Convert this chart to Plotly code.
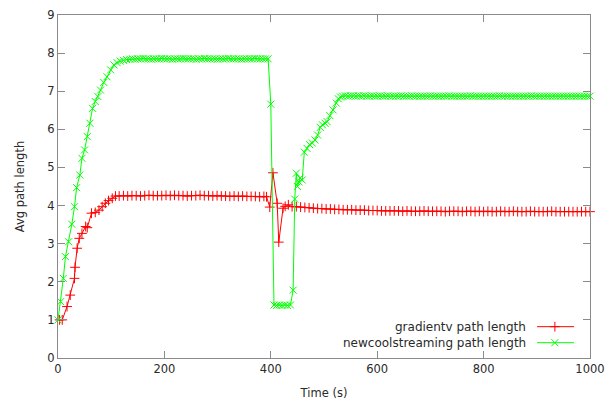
import plotly.graph_objects as go

# ---- gradientv: average path length over time ----
grad_rise_t = [3, 8, 17, 23, 31, 32, 36, 40, 45, 52, 55, 63, 70, 77, 83, 89, 95, 102, 108]
grad_rise_v = [1.0, 1.0, 1.35, 1.65, 2.09, 2.38, 2.88, 3.14, 3.27, 3.45, 3.42, 3.80, 3.82,
               3.88, 3.97, 4.06, 4.13, 4.19, 4.25]
grad_plat_t = list(range(115, 395, 8))
grad_plat_v = [4.25, 4.26, 4.25, 4.26, 4.26, 4.25, 4.26, 4.27, 4.26, 4.26,
               4.26, 4.27, 4.26, 4.27, 4.26, 4.26, 4.25, 4.26, 4.26, 4.27,
               4.26, 4.26, 4.25, 4.26, 4.25, 4.25, 4.24, 4.25, 4.24, 4.25,
               4.24, 4.24, 4.24, 4.23, 4.24]
grad_drop_t = [392, 398, 404, 412, 415, 423, 427, 433, 440]
grad_drop_v = [4.23, 3.96, 4.86, 4.06, 3.04, 3.93, 3.98, 4.02, 3.97]
grad_tail_t = list(range(448, 1001, 8))
grad_tail_v = [3.97, 3.96, 3.95, 3.94, 3.93, 3.92, 3.92, 3.91, 3.91, 3.90,
               3.90, 3.89, 3.89, 3.89, 3.88, 3.88, 3.88, 3.87, 3.87, 3.87,
               3.86, 3.86, 3.86, 3.86, 3.86, 3.85, 3.86, 3.85, 3.85, 3.85,
               3.86, 3.85, 3.85, 3.85, 3.85, 3.84, 3.85, 3.85, 3.85, 3.84,
               3.85, 3.85, 3.84, 3.85, 3.84, 3.85, 3.84, 3.84, 3.85, 3.84,
               3.84, 3.85, 3.84, 3.84, 3.84, 3.85, 3.84, 3.84, 3.84, 3.84,
               3.85, 3.84, 3.84, 3.84, 3.84, 3.84, 3.84, 3.84, 3.84, 3.84]

# ---- newcoolstreaming: average path length over time ----
ncs_rise_t = [0, 5, 10, 14, 20, 26, 31, 35, 41, 45, 50, 55, 60, 65, 70, 75, 80, 86, 92,
              99, 105, 111, 117, 123, 129]
ncs_rise_v = [1.0, 1.48, 2.09, 2.66, 3.05, 3.51, 3.97, 4.47, 4.80, 5.24, 5.46, 5.81, 6.16,
              6.55, 6.73, 6.86, 7.03, 7.23, 7.38, 7.56, 7.69, 7.75, 7.79, 7.81, 7.83]
ncs_plat_t = list(range(135, 400, 5))
ncs_plat_v = [7.84, 7.85, 7.84, 7.85, 7.85, 7.86, 7.85, 7.85, 7.84, 7.85,
              7.85, 7.85, 7.86, 7.85, 7.85, 7.85, 7.84, 7.85, 7.85, 7.85,
              7.86, 7.85, 7.85, 7.85, 7.85, 7.84, 7.85, 7.85, 7.86, 7.85,
              7.85, 7.85, 7.85, 7.84, 7.85, 7.85, 7.85, 7.86, 7.85, 7.85,
              7.85, 7.85, 7.84, 7.85, 7.85, 7.85, 7.85, 7.86, 7.85, 7.85,
              7.85, 7.85, 7.85]
ncs_drop_t = [400, 406, 411, 416, 421, 426, 431, 437, 442, 445, 448, 450, 453, 455, 459,
              463, 468, 473, 478, 483, 488, 493, 497, 502, 506, 511, 517, 523, 527, 531]
ncs_drop_v = [6.66, 1.39, 1.38, 1.39, 1.38, 1.39, 1.38, 1.39, 1.78, 4.17, 4.85, 4.50,
              4.62, 4.72, 4.67, 5.40, 5.50, 5.60, 5.64, 5.72, 5.85, 6.05, 6.12, 6.16,
              6.20, 6.36, 6.51, 6.69, 6.80, 6.85]
ncs_tail_t = list(range(535, 1001, 5))
ncs_tail_v = [6.87, 6.88, 6.87, 6.88, 6.88, 6.87, 6.88, 6.87, 6.88, 6.87,
              6.87, 6.88, 6.87, 6.87, 6.88, 6.87, 6.87, 6.88, 6.87, 6.87,
              6.87, 6.87, 6.88, 6.87, 6.87, 6.87, 6.88, 6.87, 6.87, 6.87,
              6.87, 6.87, 6.87, 6.88, 6.87, 6.87, 6.87, 6.87, 6.87, 6.87,
              6.88, 6.87, 6.87, 6.87, 6.87, 6.87, 6.87, 6.87, 6.88, 6.87,
              6.87, 6.87, 6.87, 6.87, 6.87, 6.87, 6.87, 6.87, 6.87, 6.88,
              6.87, 6.87, 6.87, 6.87, 6.87, 6.87, 6.87, 6.87, 6.87, 6.87,
              6.87, 6.88, 6.87, 6.87, 6.87, 6.87, 6.87, 6.87, 6.87, 6.87,
              6.87, 6.87, 6.87, 6.87, 6.87, 6.87, 6.87, 6.87, 6.87, 6.87,
              6.87, 6.87, 6.87, 6.87]

grad_t = grad_rise_t + grad_plat_t + grad_drop_t + grad_tail_t
grad_v = grad_rise_v + grad_plat_v + grad_drop_v + grad_tail_v
ncs_t = ncs_rise_t + ncs_plat_t + ncs_drop_t + ncs_tail_t
ncs_v = ncs_rise_v + ncs_plat_v + ncs_drop_v + ncs_tail_v

series_names = ["gradientv path length", "newcoolstreaming path length"]
RED = "rgb(255,0,0)"
GREEN = "rgb(0,255,0)"
FONT = "DejaVu Sans"
TEXT = "#2a2a2a"
AXIS_GRAY = "#8a8a8a"

fig = go.Figure()
fig.add_trace(go.Scatter(
    x=grad_t, y=grad_v, mode="lines+markers", name=series_names[0],
    line=dict(color=RED, width=1),
    marker=dict(symbol="cross-thin-open", size=7, color=RED,
                line=dict(color=RED, width=1)),
    cliponaxis=False, showlegend=False))
fig.add_trace(go.Scatter(
    x=ncs_t, y=ncs_v, mode="lines+markers", name=series_names[1],
    line=dict(color=GREEN, width=1),
    marker=dict(symbol="x-thin-open", size=7, color=GREEN,
                line=dict(color=GREEN, width=1)),
    cliponaxis=False, showlegend=False))

# legend keys (gnuplot style: text on the left, sample on the right)
key_y = [0.0913, 0.0446]
key_styles = [(RED, "cross-thin-open", 7), (GREEN, "x-thin-open", 7)]
for name, ky, (col, sym, sz) in zip(series_names, key_y, key_styles):
    fig.add_trace(go.Scatter(
        x=[0.9005, 0.97], y=[ky, ky], mode="lines", xaxis="x2", yaxis="y2",
        line=dict(color=col, width=1), showlegend=False, hoverinfo="skip"))
    fig.add_trace(go.Scatter(
        x=[0.934], y=[ky], mode="markers", xaxis="x2", yaxis="y2",
        marker=dict(symbol=sym, size=sz, color=col, line=dict(color=col, width=1)),
        showlegend=False, hoverinfo="skip"))
    fig.add_annotation(
        x=0.8836, y=ky, xref="paper", yref="paper", text=name, showarrow=False,
        xanchor="right", yanchor="middle",
        font=dict(family=FONT, size=12, color=TEXT))

axis_common = dict(
    showline=True, linecolor=AXIS_GRAY, linewidth=1, mirror="ticks",
    ticks="inside", ticklen=7, tickcolor=AXIS_GRAY, tickwidth=1,
    showgrid=False, zeroline=False, automargin=False,
    tickfont=dict(family=FONT, size=11.5, color=TEXT),
)

fig.update_layout(
    width=609, height=404,
    margin=dict(l=58, r=19, t=15, b=46),
    paper_bgcolor="white", plot_bgcolor="white",
    xaxis=dict(range=[0, 1000], dtick=200, tick0=0,
               title=dict(text="Time (s)", standoff=14,
                          font=dict(family=FONT, size=11.5, color=TEXT)),
               **axis_common),
    yaxis=dict(range=[0, 9], dtick=1, tick0=0,
               title=dict(text="Avg path length", standoff=20,
                          font=dict(family=FONT, size=11.5, color=TEXT)),
               **axis_common),
    xaxis2=dict(overlaying="x", range=[0, 1], visible=False),
    yaxis2=dict(overlaying="y", range=[0, 1], visible=False),
    showlegend=False,
)

fig.write_html("out.html")
